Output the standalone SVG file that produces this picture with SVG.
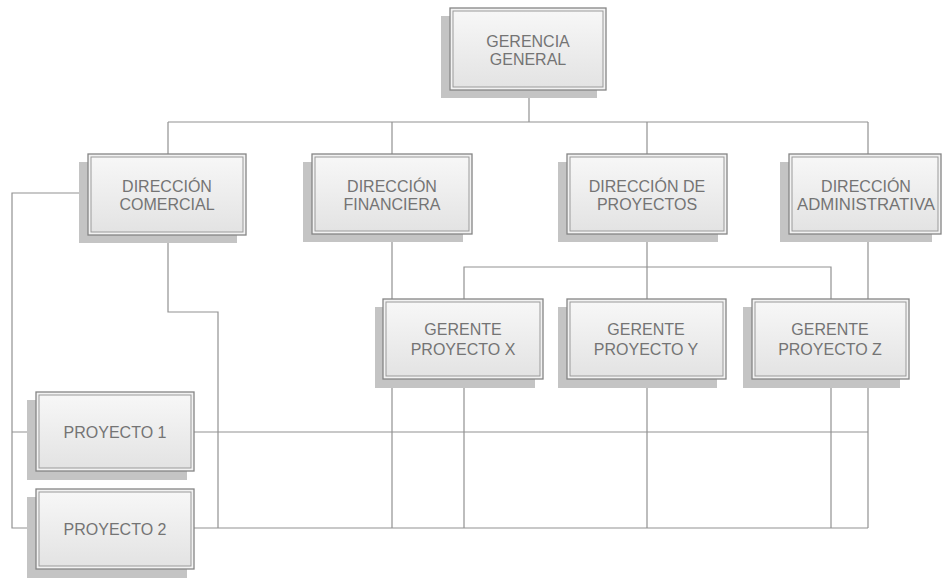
<svg xmlns="http://www.w3.org/2000/svg" width="942" height="578" viewBox="0 0 942 578">
  <defs>
    <linearGradient id="boxFill" x1="0" y1="0" x2="0" y2="1">
      <stop offset="0" stop-color="#f7f7f7"/>
      <stop offset="1" stop-color="#e3e3e3"/>
    </linearGradient>
    <style>
      .wire { fill: none; stroke: #929292; stroke-width: 1.2; }
      .shadow { fill: #c4c4c4; }
      .outer { fill: #f2f2f2; stroke: #858585; stroke-width: 1.3; }
      .inner { fill: url(#boxFill); stroke: #9a9a9a; stroke-width: 1; }
      .label { font-family: "Liberation Sans", Arial, sans-serif; font-size: 16px; fill: #747474; text-anchor: middle; }
    </style>
  </defs>

  <rect width="942" height="578" fill="#ffffff"/>

  <!-- connectors -->
  <g id="connectors">
    <path class="wire" d="M529 90 V122"/>
    <path class="wire" d="M168 122 H868"/>
    <path class="wire" d="M168 122 V154 M392 122 V154 M647 122 V154 M868 122 V154"/>
    <path class="wire" d="M392 234 V299 M392 379 V528"/>
    <path class="wire" d="M647 234 V299 M647 379 V528"/>
    <path class="wire" d="M464 299 V267 H831 V299"/>
    <path class="wire" d="M464 379 V528 M831 379 V528"/>
    <path class="wire" d="M868 234 V528"/>
    <path class="wire" d="M168 235 V312 H218 V528"/>
    <path class="wire" d="M88 193 H12 V528 H36 M12 432 H36"/>
    <path class="wire" d="M194 432 H868"/>
    <path class="wire" d="M194 528 H868"/>
  </g>

  <!-- nodes -->
  <g id="gerencia-general">
    <rect class="shadow" x="441" y="16" width="156" height="82"/>
    <rect class="outer" x="450" y="8" width="156" height="82"/>
    <rect class="inner" x="453" y="11" width="150" height="76"/>
    <text class="label" x="528" y="47">GERENCIA</text>
    <text class="label" x="528" y="65">GENERAL</text>
  </g>

  <g id="direccion-comercial">
    <rect class="shadow" x="79" y="162" width="158" height="81"/>
    <rect class="outer" x="88" y="154" width="158" height="81"/>
    <rect class="inner" x="91" y="157" width="152" height="75"/>
    <text class="label" x="167" y="192">DIRECCIÓN</text>
    <text class="label" x="167" y="210">COMERCIAL</text>
  </g>

  <g id="direccion-financiera">
    <rect class="shadow" x="303" y="162" width="160" height="80"/>
    <rect class="outer" x="312" y="154" width="160" height="80"/>
    <rect class="inner" x="315" y="157" width="154" height="74"/>
    <text class="label" x="392" y="192">DIRECCIÓN</text>
    <text class="label" x="392" y="210">FINANCIERA</text>
  </g>

  <g id="direccion-proyectos">
    <rect class="shadow" x="558" y="162" width="160" height="80"/>
    <rect class="outer" x="567" y="154" width="160" height="80"/>
    <rect class="inner" x="570" y="157" width="154" height="74"/>
    <text class="label" x="647" y="192">DIRECCIÓN DE</text>
    <text class="label" x="647" y="210">PROYECTOS</text>
  </g>

  <g id="direccion-administrativa">
    <rect class="shadow" x="780" y="162" width="152" height="80"/>
    <rect class="outer" x="789" y="154" width="152" height="80"/>
    <rect class="inner" x="792" y="157" width="146" height="74"/>
    <text class="label" x="866" y="192">DIRECCIÓN</text>
    <text class="label" x="866" y="210" textLength="138" lengthAdjust="spacingAndGlyphs">ADMINISTRATIVA</text>
  </g>

  <g id="gerente-x">
    <rect class="shadow" x="375" y="307" width="160" height="81"/>
    <rect class="outer" x="383" y="299" width="160" height="80"/>
    <rect class="inner" x="386" y="302" width="154" height="74"/>
    <text class="label" x="463" y="335">GERENTE</text>
    <text class="label" x="463" y="355">PROYECTO X</text>
  </g>

  <g id="gerente-y">
    <rect class="shadow" x="558" y="307" width="159" height="81"/>
    <rect class="outer" x="567" y="299" width="159" height="80"/>
    <rect class="inner" x="570" y="302" width="153" height="74"/>
    <text class="label" x="646" y="335">GERENTE</text>
    <text class="label" x="646" y="355">PROYECTO Y</text>
  </g>

  <g id="gerente-z">
    <rect class="shadow" x="743" y="307" width="157" height="81"/>
    <rect class="outer" x="752" y="299" width="157" height="80"/>
    <rect class="inner" x="755" y="302" width="151" height="74"/>
    <text class="label" x="830" y="335">GERENTE</text>
    <text class="label" x="830" y="355">PROYECTO Z</text>
  </g>

  <g id="proyecto-1">
    <rect class="shadow" x="27" y="400" width="160" height="80"/>
    <rect class="outer" x="36" y="392" width="158" height="79"/>
    <rect class="inner" x="39" y="395" width="152" height="73"/>
    <text class="label" x="115" y="438">PROYECTO 1</text>
  </g>

  <g id="proyecto-2">
    <rect class="shadow" x="27" y="497" width="160" height="81"/>
    <rect class="outer" x="36" y="489" width="158" height="80"/>
    <rect class="inner" x="39" y="492" width="152" height="74"/>
    <text class="label" x="115" y="535">PROYECTO 2</text>
  </g>
</svg>
